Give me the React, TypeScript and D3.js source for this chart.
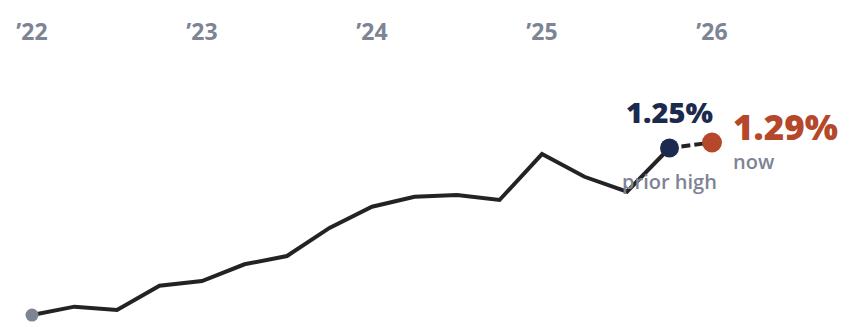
import React from "react";
import * as d3 from "d3";

const quarters: string[] = [
  "2022Q1", "2022Q2", "2022Q3", "2022Q4",
  "2023Q1", "2023Q2", "2023Q3", "2023Q4",
  "2024Q1", "2024Q2", "2024Q3", "2024Q4",
  "2025Q1", "2025Q2", "2025Q3", "2025Q4",
  "2026Q1",
];
const values: number[] = [
  0.036, 0.097, 0.073, 0.249, 0.283, 0.405, 0.465, 0.669,
  0.823, 0.896, 0.908, 0.872, 1.206, 1.041, 0.932, 1.25, 1.29,
];
const yearLabels: string[] = ["\u201922", "\u201923", "\u201924", "\u201925", "\u201926"];
const yearIndex: number[] = [0, 4, 8, 12, 16];
const priorHighLabel = "1.25%";
const nowLabel = "1.29%";

const W = 843;
const H = 326;
const FONT = "'Open Sans', sans-serif";

export default function App() {
  const x = d3.scaleLinear().domain([0, quarters.length - 1]).range([32, 712]);
  const y = d3.scaleLinear().domain([0, 1.29]).range([320, 142.5]);
  const n = values.length;
  const line = d3
    .line<number>()
    .x((_, i) => x(i))
    .y((d) => y(d));
  const solid = line(values.slice(0, n - 1)) || "";
  const dashed =
    d3
      .line<number>()
      .x((_, i) => x(n - 2 + i))
      .y((d) => y(d))(values.slice(n - 2)) || "";

  const hiX = x(n - 2);
  const hiY = y(values[n - 2]);
  const nowX = x(n - 1);
  const nowY = y(values[n - 1]);

  return (
    <div style={{ position: "absolute", left: 0, top: 0 }}>
      <svg width={W} height={H} style={{ display: "block" }}>
        {yearLabels.map((t, i) => (
          <text
            key={t}
            x={x(yearIndex[i])}
            y={39.5}
            textAnchor="middle"
            fontFamily={FONT}
            fontWeight={700}
            fontSize={23}
            fill="#7d8494"
          >
            {t}
          </text>
        ))}
        <path d={solid} fill="none" stroke="#232323" strokeWidth={4} strokeLinejoin="miter" />
        <path d={dashed} fill="none" stroke="#232323" strokeWidth={4} strokeDasharray="9 4" strokeDashoffset={-12} />
        <circle cx={x(0)} cy={y(values[0])} r={6.5} fill="#7d8494" />
        <circle cx={hiX} cy={hiY} r={9.5} fill="#1c2a4d" />
        <circle cx={nowX} cy={nowY} r={10} fill="#b5482b" />
        <text x={hiX} y={123} textAnchor="middle" fontFamily={FONT} fontWeight={800} fontSize={29} fill="#1c2a4d">
          {priorHighLabel}
        </text>
        <text x={hiX} y={189} textAnchor="middle" fontFamily={FONT} fontWeight={600} fontSize={20} fill="#7d8494">
          prior high
        </text>
        <text x={nowX + 21} y={140} textAnchor="start" fontFamily={FONT} fontWeight={800} fontSize={35} fill="#b5482b">
          {nowLabel}
        </text>
        <text x={nowX + 21} y={169} textAnchor="start" fontFamily={FONT} fontWeight={600} fontSize={20} fill="#7d8494">
          now
        </text>
      </svg>
    </div>
  );
}
